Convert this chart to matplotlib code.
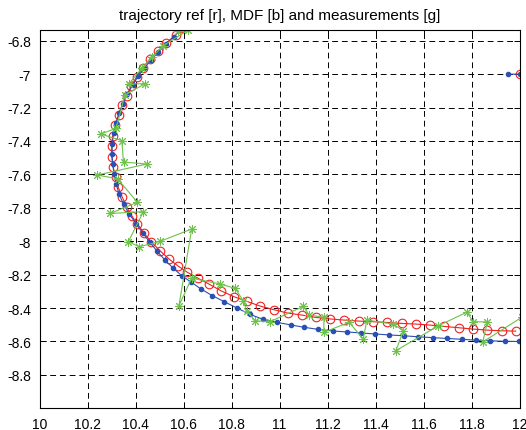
import numpy as np
import matplotlib
matplotlib.use("Agg")
import matplotlib.pyplot as plt

plt.rcParams.update({
    "font.family": ["Liberation Sans", "DejaVu Sans"],
    "font.size": 10,
})

# =========================
# DATA
# =========================
# reference trajectory (red circles); nan splits the lone start point
ref_x = [12.0, np.nan,
         10.590, 10.568, 10.526, 10.493, 10.460, 10.430, 10.405, 10.383,
         10.363, 10.345, 10.330, 10.316, 10.305, 10.301, 10.301, 10.307,
         10.317, 10.328, 10.345, 10.363, 10.384, 10.407, 10.435, 10.465,
         10.502, 10.540, 10.576, 10.616, 10.661, 10.708, 10.758, 10.810,
         10.864, 10.919, 10.977, 11.034, 11.093, 11.151, 11.210, 11.270,
         11.331, 11.391, 11.449, 11.509, 11.569, 11.627, 11.687, 11.748,
         11.808, 11.866, 11.926, 11.984]
ref_y = [-7.0, np.nan,
         -6.726, -6.764, -6.816, -6.862, -6.910, -6.962, -7.015, -7.070,
         -7.129, -7.186, -7.245, -7.305, -7.368, -7.432, -7.494, -7.556,
         -7.618, -7.677, -7.737, -7.794, -7.847, -7.895, -7.951, -8.003,
         -8.057, -8.107, -8.147, -8.186, -8.222, -8.258, -8.298, -8.332,
         -8.360, -8.388, -8.410, -8.430, -8.442, -8.456, -8.465, -8.472,
         -8.478, -8.482, -8.486, -8.492, -8.496, -8.502, -8.510, -8.518,
         -8.526, -8.532, -8.536, -8.538]

# MDF estimate (blue dots)
mdf_x = [12.0, 11.953, np.nan,
         10.595, 10.560, 10.527, 10.495, 10.465, 10.437, 10.411, 10.388,
         10.366, 10.347, 10.331, 10.318, 10.309, 10.303, 10.302, 10.305,
         10.311, 10.320, 10.332, 10.350, 10.374, 10.402, 10.430, 10.459,
         10.489, 10.521, 10.556, 10.593, 10.630, 10.671, 10.719, 10.770,
         10.823, 10.877, 10.933, 10.988, 11.047, 11.102, 11.162, 11.222,
         11.280, 11.340, 11.398, 11.458, 11.519, 11.578, 11.638, 11.699,
         11.759, 11.819, 11.877, 11.940, 11.999]
mdf_y = [-7.0, -7.0, np.nan,
         -6.726, -6.775, -6.822, -6.868, -6.915, -6.963, -7.012, -7.066,
         -7.120, -7.177, -7.235, -7.295, -7.355, -7.416, -7.477, -7.538,
         -7.600, -7.660, -7.720, -7.778, -7.837, -7.895, -7.950, -8.005,
         -8.058, -8.110, -8.160, -8.207, -8.243, -8.284, -8.325, -8.362,
         -8.400, -8.438, -8.468, -8.485, -8.501, -8.515, -8.528, -8.537,
         -8.543, -8.549, -8.555, -8.561, -8.566, -8.572, -8.577, -8.582,
         -8.587, -8.592, -8.596, -8.599, -8.600]

# measurements (green stars)
meas_x = [10.578, 10.618, 10.515, 10.468, 10.426, 10.372, 10.440, 10.356,
          10.319, 10.255, 10.343, 10.350, 10.447, 10.241, 10.325, 10.408,
          10.294, 10.433, 10.370, 10.416, 10.502, 10.634, 10.581, 10.634,
          10.752, 10.815, 10.849, 10.863, 10.898, 10.960, 11.099, 11.124,
          11.185, 11.185, 11.290, 11.349, 11.364, 11.474, 11.516, 11.485,
          11.662, 11.780, 11.808, 11.866, 11.847, 12.010]
meas_y = [-6.744, -6.738, -6.830, -6.899, -6.965, -7.059, -7.057, -7.125,
          -7.325, -7.358, -7.398, -7.526, -7.538, -7.604, -7.626, -7.767,
          -7.834, -7.823, -8.003, -8.033, -8.001, -7.927, -8.386, -8.221,
          -8.256, -8.282, -8.356, -8.416, -8.476, -8.482, -8.390, -8.442,
          -8.455, -8.545, -8.485, -8.585, -8.472, -8.496, -8.536, -8.655,
          -8.506, -8.425, -8.482, -8.483, -8.603, -8.455]

x_ticks = [10.0, 10.2, 10.4, 10.6, 10.8, 11.0, 11.2, 11.4, 11.6, 11.8, 12.0]
x_labels = ["10", "10.2", "10.4", "10.6", "10.8", "11",
            "11.2", "11.4", "11.6", "11.8", "12"]
y_ticks = [-8.8, -8.6, -8.4, -8.2, -8.0, -7.8, -7.6, -7.4, -7.2, -7.0, -6.8]
y_labels = ["-8.8", "-8.6", "-8.4", "-8.2", "-8", "-7.8",
            "-7.6", "-7.4", "-7.2", "-7", "-6.8"]

# =========================
# PLOT
# =========================
fig = plt.figure(figsize=(5.26, 4.31), dpi=100)
ax = fig.add_axes([39.5 / 526, 21.7 / 431, 480 / 526, 378.6 / 431])

ax.plot(ref_x, ref_y, '-o', color='#f02020', lw=0.8,
        ms=6.2, mfc='none', mec='#f02020', mew=0.8)
ax.plot(mdf_x, mdf_y, '-o', color='#2a50b4', lw=0.8,
        ms=3.0, mfc='#2a50b4', mec='#2a50b4')
ax.plot(meas_x, meas_y, '-', color='#6cc24a', lw=0.8,
        marker=(8, 2, 0), ms=6.5, mec='#6cc24a', mew=0.7)

ax.set_xlim(10, 12)
ax.set_ylim(-9, -6.734)
ax.set_xticks(x_ticks)
ax.set_xticklabels(x_labels)
ax.set_yticks(y_ticks)
ax.set_yticklabels(y_labels)

ax.grid(True, color='black', linestyle=(0, (6, 4)), linewidth=0.7)
ax.tick_params(direction='in', top=True, right=True, length=4,
               width=0.7, pad=6, colors='black')
for s in ax.spines.values():
    s.set_linewidth(0.8)

ax.set_title("trajectory ref [r], MDF [b] and measurements [g]",
             fontsize=11, pad=8)

fig.savefig("out.png", dpi=100)
